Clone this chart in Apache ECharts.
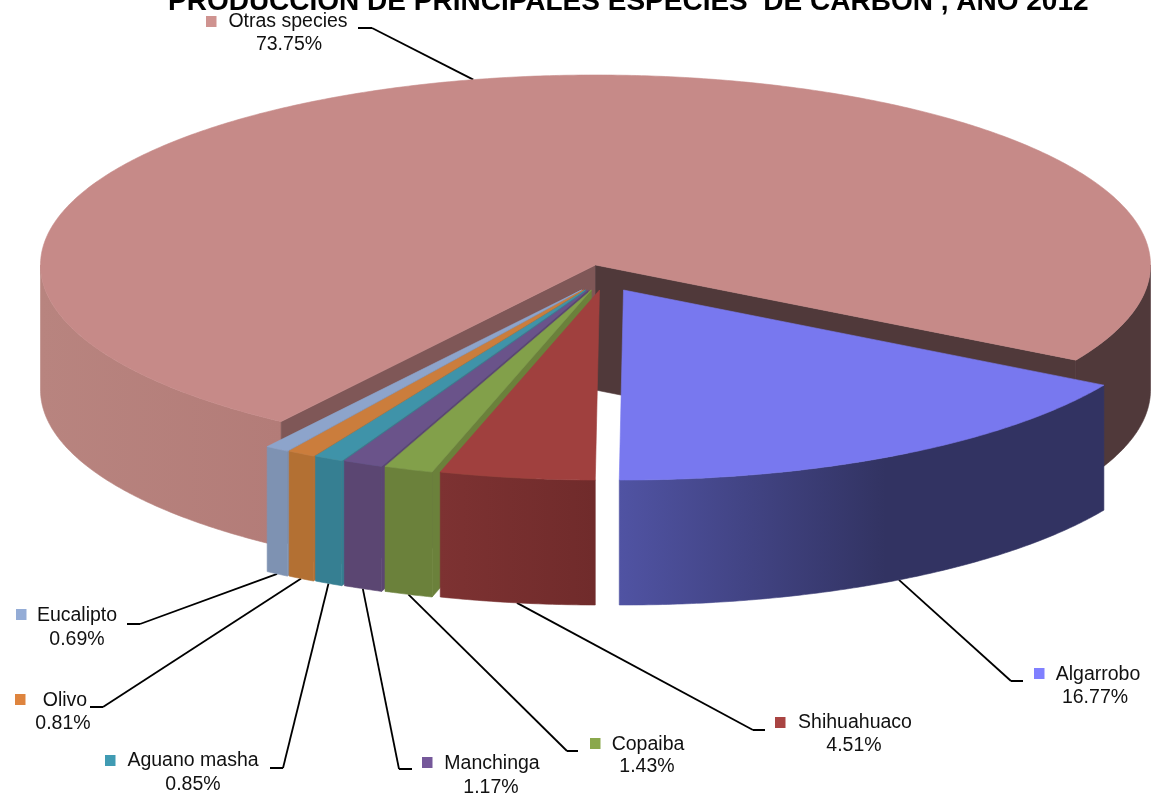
<!DOCTYPE html>
<html>
<head>
<meta charset="utf-8">
<style>
  html, body { margin: 0; padding: 0; background: #fff; }
  #chart { width: 1157px; height: 798px; }
</style>
<script src="https://cdn.jsdelivr.net/npm/echarts@6/dist/echarts.min.js"></script>
</head>
<body>
<div id="chart"></div>
<script>
const titleText = 'PRODUCCIÓN DE PRINCIPALES ESPECIES  DE CARBÓN , AÑO 2012'
const categories = ['Otras species', 'Algarrobo', 'Shihuahuaco', 'Copaiba', 'Manchinga', 'Aguano masha', 'Olivo', 'Eucalipto']
const values = [73.75, 16.77, 4.51, 1.43, 1.17, 0.85, 0.81, 0.69]

const legendColors = ['#cf9390', '#8080ff', '#a94442', '#8aa84c', '#75589a', '#409bb3', '#de843e', '#94acd6']
const topColors = ['#c68a88', '#7878ef', '#a0403e', '#82a04a', '#6a538a', '#3f93a9', '#cb7d3c', '#8da4cb']
const wallColors = [
  ['#b8847f', '#b37c78'],
  ['#5053a3', '#323362'],
  ['#7d3232', '#702b2b'],
  ['#6b813b', '#6b813b'],
  ['#5b4672', '#5b4672'],
  ['#367f92', '#367f92'],
  ['#b37033', '#b37033'],
  ['#7e92b2', '#7e92b2']
]

// where each label sits: elbow of the leader, end of its dash, swatch, name and percent
const labelLayout = [
  { elbow: [372, 28], dash: 358, swatch: [206, 16], name: [288, 22], pct: [289, 45] },
  { elbow: [1011, 681], dash: 1023, swatch: [1034, 668], name: [1098, 675], pct: [1095, 698] },
  { elbow: [753, 730], dash: 765, swatch: [775, 717], name: [855, 723], pct: [854, 746] },
  { elbow: [567, 751], dash: 578, swatch: [590, 738], name: [648, 745], pct: [647, 767] },
  { elbow: [399, 769], dash: 412, swatch: [422, 757], name: [492, 764], pct: [491, 788] },
  { elbow: [283, 768], dash: 270, swatch: [105, 755], name: [193, 761], pct: [193, 785] },
  { elbow: [103, 707], dash: 90, swatch: [15, 694], name: [65, 701], pct: [63, 724] },
  { elbow: [140, 624], dash: 127, swatch: [16, 609], name: [77, 616], pct: [77, 640] }
]

const CX = 595.5
const CY = 265
const RX = 555
const RY = 190
const DEPTH = 125
const START_DEG = 124.5
const FONT = '19.5px "Liberation Sans", Arial, sans-serif'

const rad = (d) => (d * Math.PI) / 180
const total = values.reduce((a, b) => a + b, 0)

// Otras stays in place, every other slice is pulled out towards the viewer
let cursor = START_DEG
const slices = values.map((v, i) => {
  const a0 = cursor
  const a1 = cursor + (v / total) * 360
  cursor = a1
  const mid = (a0 + a1) / 2
  const ox = i === 0 ? 0 : Math.min(28, 45 * Math.cos(rad(mid)) + 10.7)
  const oy = i === 0 ? 0 : 25
  return { a0, a1, mid, cx: CX + ox, cy: CY + oy }
})

const rimPoint = (s, deg, drop = 0) => [s.cx + RX * Math.cos(rad(deg)), s.cy + RY * Math.sin(rad(deg)) + drop]

const arc = (s, from, to, drop = 0) => {
  const pts = []
  const steps = Math.max(2, Math.ceil(Math.abs(to - from) * 2))
  for (let k = 0; k <= steps; k++) {
    pts.push(rimPoint(s, from + ((to - from) * k) / steps, drop))
  }
  return pts
}

// thin stroke of the same paint hides the seams between neighbouring polygons
const poly = (points, fill, z2) => ({
  type: 'polygon',
  z2,
  shape: { points },
  style: { fill, stroke: fill, lineWidth: 0.6 }
})

const wallFill = (i) => new echarts.graphic.LinearGradient(0, 0, 1, 0, i === 1
  ? [{ offset: 0, color: wallColors[1][0] }, { offset: 0.55, color: wallColors[1][1] }, { offset: 1, color: wallColors[1][1] }]
  : [{ offset: 0, color: wallColors[i][0] }, { offset: 1, color: wallColors[i][1] }])

const wall = (s, from, to, fill, z2) => poly([...arc(s, from, to), ...arc(s, to, from, DEPTH)], fill, z2)

const cutFace = (s, deg, fill, z2) => poly([
  [s.cx, s.cy],
  rimPoint(s, deg),
  rimPoint(s, deg, DEPTH),
  [s.cx, s.cy + DEPTH]
], fill, z2)

const renderSlice = (params, api) => {
  const i = api.value(0)
  const s = slices[i]
  const children = []
  if (i === 0) {
    children.push(wall(s, s.a0, 180, wallFill(0), 0))
    children.push(wall(s, 360, s.a1, '#50393a', 0))
    children.push(cutFace(s, s.a0, '#7f5757', 0))
    children.push(cutFace(s, s.a1, '#50393a', 0))
    children.push(poly([[s.cx, s.cy], ...arc(s, s.a0, s.a1)], topColors[0], 1))
  } else {
    // only the narrow slices show their cut side
    if (i > 2) children.push(cutFace(s, s.a0, wallColors[i][1], 2))
    children.push(wall(s, s.a0, s.a1, wallFill(i), 3))
    children.push(poly([[s.cx, s.cy], ...arc(s, s.a0, s.a1)], topColors[i], 4))
  }
  return { type: 'group', children }
}

const renderLabel = (params, api) => {
  const i = api.value(0)
  const s = slices[i]
  const l = labelLayout[i]
  const front = i > 0
  const start = rimPoint(s, s.mid, front ? DEPTH : 0)
  const text = (pos, str) => ({
    type: 'text',
    style: { x: pos[0], y: pos[1], text: str, fill: '#111', font: FONT, align: 'center', verticalAlign: 'middle' }
  })
  return {
    type: 'group',
    children: [
      {
        type: 'polyline',
        shape: { points: [start, l.elbow] },
        style: { stroke: '#000', lineWidth: 1.8, fill: 'none' }
      },
      {
        type: 'polyline',
        shape: { points: [l.elbow, [l.dash, l.elbow[1]]] },
        style: { stroke: '#000', lineWidth: 2, fill: 'none' }
      },
      {
        type: 'rect',
        shape: { x: l.swatch[0], y: l.swatch[1], width: 10.5, height: 11 },
        style: { fill: legendColors[i] }
      },
      text(l.name, categories[i]),
      text(l.pct, values[i].toFixed(2) + '%')
    ]
  }
}

const chart = echarts.init(document.getElementById('chart'))

// back to front: Otras, Algarrobo, then the small slices from left to right
const drawOrder = [0, 1, 7, 6, 5, 4, 3, 2]

chart.setOption({
  animation: false,
  backgroundColor: '#fff',
  title: {
    text: titleText,
    left: 168,
    top: -12,
    padding: 0,
    textStyle: {
      color: '#000',
      fontFamily: '"Liberation Sans", Arial, sans-serif',
      fontWeight: 'bold',
      fontSize: 28
    }
  },
  series: [
    {
      type: 'custom',
      coordinateSystem: 'none',
      silent: true,
      renderItem: renderSlice,
      data: drawOrder.map((i) => [i])
    },
    {
      type: 'custom',
      coordinateSystem: 'none',
      silent: true,
      z: 1,
      renderItem: renderLabel,
      data: categories.map((c, i) => [i])
    }
  ]
})
</script>
</body>
</html>
